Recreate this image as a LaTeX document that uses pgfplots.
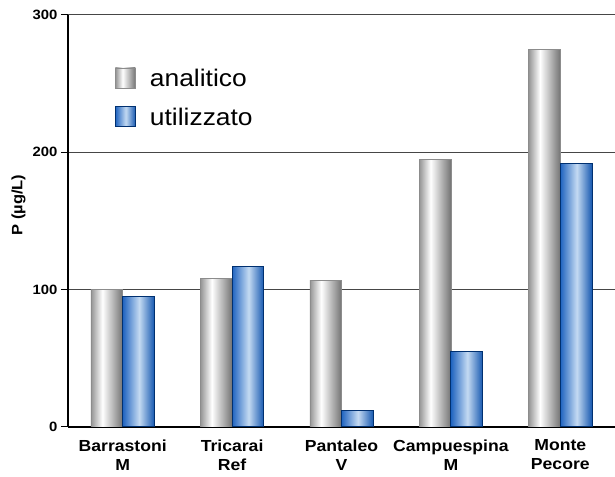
\documentclass[border=0pt]{standalone}
\usepackage{fontspec}
\setmainfont[FakeStretch=1.1]{Liberation Sans}
\usepackage{pgfplots}
\pgfplotsset{compat=1.18}

\definecolor{barblue}{RGB}{32,100,192}
\definecolor{barblue2}{RGB}{22,88,176}
\definecolor{lightblue}{RGB}{196,218,242}
\definecolor{navy}{RGB}{0,48,112}
\definecolor{gridc}{RGB}{70,70,70}

\pgfdeclarehorizontalshading{cylgray}{100bp}{%
  color(0bp)=(black!42); color(25bp)=(black!42); color(43bp)=(white);
  color(75bp)=(black!55); color(100bp)=(black!55)}
\pgfdeclarehorizontalshading{cylblue}{100bp}{%
  color(0bp)=(barblue); color(25bp)=(barblue); color(51bp)=(lightblue);
  color(75bp)=(barblue2); color(100bp)=(barblue2)}

\pgfplotsset{
  sqlegend/.style={legend image code/.code={%
    \draw[##1] (0pt,-9pt) rectangle (20pt,11pt);
    \path (32pt,0pt);}},
  gbar/.style={shading=cylgray, draw=black!45, line width=0.5pt, bar shift=-0.145, sqlegend},
  bbar/.style={shading=cylblue, draw=navy, line width=1pt, bar shift=0.145, sqlegend},
}

\begin{document}
\begin{tikzpicture}
\begin{axis}[
    name=ax,
    scale only axis,
    width=547pt, height=412pt,
    ybar, bar width=0.29,
    xmin=-0.5, xmax=4.5,
    ymin=0, ymax=300,
    ytick={0,100,200,300},
    xtick={0,1,2,3,4},
    xticklabels={Barrastoni\\M, Tricarai\\Ref, Pantaleo\\V, Campuespina\\M, Monte\\Pecore},
    xticklabel style={align=center, font=\fontsize{16}{19}\selectfont\bfseries, yshift=-2pt},
    yticklabel style={font=\fontsize{13.5}{15}\selectfont\bfseries},
    /pgf/number format/assume math mode=true,
    axis x line=bottom, axis y line=left,
    axis line style={-, black, line width=1.5pt},
    x tick style={draw=none},
    y tick style={black, line width=1pt},
    tick align=outside, major tick length=7pt,
    ymajorgrids=true,
    grid style={gridc, line width=1pt},
    ylabel={P (µg/L)},
    ylabel style={font=\fontsize{15}{17}\selectfont\bfseries, at={(rel axis cs:-0.071,0.539)}},
    legend style={draw=none, fill=none, at={(rel axis cs:0.08,0.878)}, anchor=north west,
      font=\fontsize{24}{27}\selectfont, row sep=16pt},
    legend cell align=left,
]
% analitico
\addplot[gbar] coordinates {(0,100)};
\addlegendentry{analitico}
% utilizzato
\addplot[bbar] coordinates {(0,95)};
\addlegendentry{utilizzato}
\addplot[gbar, forget plot] coordinates {(1,108)};
\addplot[bbar, forget plot] coordinates {(1,117)};
\addplot[gbar, forget plot] coordinates {(2,107)};
\addplot[bbar, forget plot] coordinates {(2,12)};
\addplot[gbar, forget plot] coordinates {(3,195)};
\addplot[bbar, forget plot] coordinates {(3,55)};
\addplot[gbar, forget plot] coordinates {(4,275)};
\addplot[bbar, forget plot] coordinates {(4,192)};
\end{axis}
\pgfresetboundingbox
\path[use as bounding box] ([xshift=-68pt,yshift=-50pt]ax.south west) rectangle ([yshift=15pt]ax.north east);
\end{tikzpicture}
\end{document}
